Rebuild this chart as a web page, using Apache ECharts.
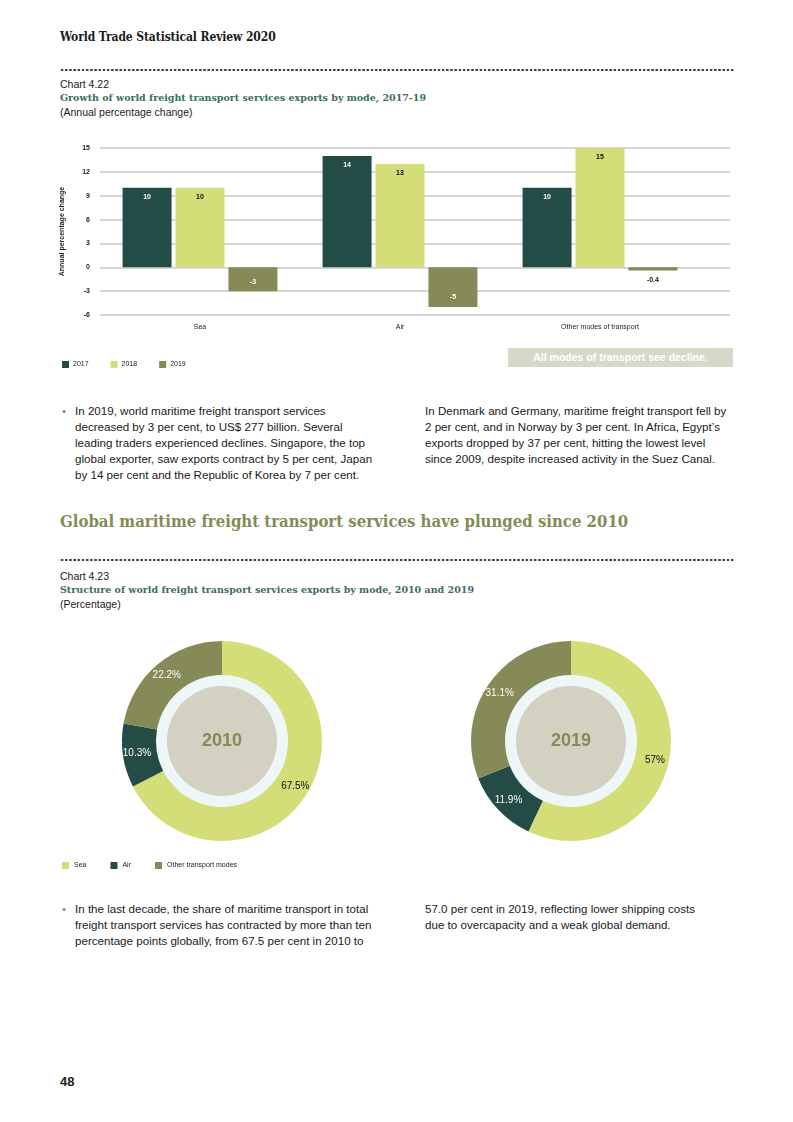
<!DOCTYPE html>
<html>
<head>
<meta charset="utf-8">
<script src="https://cdn.jsdelivr.net/npm/echarts@6/dist/echarts.min.js"></script>
<style>
  html, body { margin:0; padding:0; background:#fff; }
  body { width:793px; height:1122px; position:relative; overflow:hidden; font-family:"Liberation Sans", Arial, sans-serif; color:#1a1a1a; }
  .abs { position:absolute; white-space:nowrap; }
  .slab { font-family:"DejaVu Serif", serif; }
  .slabc { font-family:"DejaVu Serif Condensed","DejaVu Serif", serif; font-stretch:condensed; }
  .dots { position:absolute; left:60px; width:675px; height:4px;
          background-image: radial-gradient(circle, #3a3a3a 0.95px, transparent 1.3px);
          background-size: 4.2px 4px; background-position: 0 0; }
  .ctitle { color:#3c6c64; font-weight:bold; font-size:9.5px; }
  .small { font-size:10.5px; }
  .body { font-size:11.6px; line-height:16px; color:#1a1a1a; }
  .bullet { color:#858a57; }
</style>
</head>
<body>
<div class="abs slabc" style="left:60px;top:30px;font-size:12px;font-weight:bold;letter-spacing:-0.1px;">World Trade Statistical Review 2020</div>
<div class="dots" style="top:68px;"></div>
<div class="abs small" style="left:60px;top:78px;">Chart 4.22</div>
<div class="abs slab ctitle" style="left:60px;top:92px;">Growth of world freight transport services exports by mode, 2017-19</div>
<div class="abs small" style="left:60px;top:106px;">(Annual percentage change)</div>

<div id="bar" style="position:absolute;left:0;top:130px;width:793px;height:245px;"></div>

<div class="abs" style="left:508px;top:348px;width:225px;height:19px;background:#d8d8c9;color:#fff;font-weight:bold;font-size:10.5px;line-height:19px;text-align:center;">All modes of transport see decline.</div>

<div class="abs body" style="left:62px;top:403px;"><span class="bullet">•</span></div>
<div class="abs body" style="left:75px;top:403px;">In 2019, world maritime freight transport services<br>decreased by 3 per cent, to US$ 277 billion. Several<br>leading traders experienced declines. Singapore, the top<br>global exporter, saw exports contract by 5 per cent, Japan<br>by 14 per cent and the Republic of Korea by 7 per cent.</div>
<div class="abs body" style="left:425px;top:403px;">In Denmark and Germany, maritime freight transport fell by<br>2 per cent, and in Norway by 3 per cent. In Africa, Egypt’s<br>exports dropped by 37 per cent, hitting the lowest level<br>since 2009, despite increased activity in the Suez Canal.</div>

<div class="abs slabc" style="left:60px;top:511px;font-size:16.6px;font-weight:bold;color:#858a57;">Global maritime freight transport services have plunged since 2010</div>
<div class="dots" style="top:558px;"></div>
<div class="abs small" style="left:60px;top:570px;">Chart 4.23</div>
<div class="abs slab ctitle" style="left:60px;top:584px;">Structure of world freight transport services exports by mode, 2010 and 2019</div>
<div class="abs small" style="left:60px;top:598px;">(Percentage)</div>

<div id="pie" style="position:absolute;left:0;top:630px;width:793px;height:250px;"></div>

<div class="abs body" style="left:62px;top:901px;"><span class="bullet">•</span></div>
<div class="abs body" style="left:75px;top:901px;">In the last decade, the share of maritime transport in total<br>freight transport services has contracted by more than ten<br>percentage points globally, from 67.5 per cent in 2010 to</div>
<div class="abs body" style="left:425px;top:901px;">57.0 per cent in 2019, reflecting lower shipping costs<br>due to overcapacity and a weak global demand.</div>

<div class="abs" style="left:60px;top:1074px;font-size:13px;font-weight:bold;">48</div>

<script>
// ---- Chart 4.22 data ----
const categories = ['Sea', 'Air', 'Other modes of transport'];
const years = ['2017', '2018', '2019'];
const v2017 = [10, 14, 10];
const v2018 = [10, 13, 15];
const v2019 = [-3, -5, -0.4];
const yTicks = { min: -6, max: 15, interval: 3 };

// ---- Chart 4.23 data ----
const modes = ['Sea', 'Air', 'Other transport modes'];
const pieYears = ['2010', '2019'];
const share2010 = [67.5, 10.3, 22.2];
const share2019 = [57, 11.9, 31.1];

const cDark = '#244c46', cLight = '#d4de78', cOlive = '#858a57';
const FONT = '"Liberation Sans", Arial, sans-serif';

const bar = echarts.init(document.getElementById('bar'), null, { renderer: 'canvas' });
const lab = (color, pos) => ({ show: true, position: pos, distance: 6, color, fontSize: 7, fontWeight: 'bold', fontFamily: FONT, formatter: '{c}' });
bar.setOption({
  animation: false,
  textStyle: { fontFamily: FONT },
  legend: {
    data: years, left: 57, top: 226, icon: 'rect', itemWidth: 7, itemHeight: 7, itemGap: 22,
    textStyle: { fontSize: 7, color: '#222', fontFamily: FONT, padding: [0, 0, 0, -1] }
  },
  grid: [
    { left: 100, width: 630, top: 18, height: 167 },
    { left: 100, width: 600, top: 18, height: 167 }
  ],
  xAxis: [
    { gridIndex: 0, type: 'category', data: categories, show: false },
    { gridIndex: 1, type: 'category', data: categories,
      axisLine: { show: false }, axisTick: { show: false },
      axisLabel: { fontSize: 7, color: '#222', margin: 9, fontFamily: FONT } }
  ],
  yAxis: [
    { gridIndex: 0, type: 'value', min: yTicks.min, max: yTicks.max, interval: yTicks.interval,
      name: 'Annual percentage change', nameLocation: 'middle', nameRotate: 90, nameGap: 34,
      nameTextStyle: { fontSize: 7, color: '#222', fontWeight: 'bold', fontFamily: FONT },
      axisLine: { show: false }, axisTick: { show: false },
      axisLabel: { fontSize: 7, color: '#222', fontWeight: 'bold', margin: 10, fontFamily: FONT },
      splitLine: { lineStyle: { color: '#c9c9c9', width: 1.5 } } },
    { gridIndex: 1, type: 'value', min: yTicks.min, max: yTicks.max, interval: yTicks.interval, show: false,
      splitLine: { show: false } }
  ],
  series: [
    { name: '2017', type: 'bar', xAxisIndex: 1, yAxisIndex: 1, data: v2017, barWidth: 49, barGap: '8%',
      itemStyle: { color: cDark }, label: lab('#fff', 'insideTop') },
    { name: '2018', type: 'bar', xAxisIndex: 1, yAxisIndex: 1, data: v2018, barWidth: 49, barGap: '8%',
      itemStyle: { color: cLight }, label: lab('#111', 'insideTop') },
    { name: '2019', type: 'bar', xAxisIndex: 1, yAxisIndex: 1, barWidth: 49, barGap: '8%',
      itemStyle: { color: cOlive },
      data: v2019.map(v => v > -1
        ? { value: v, label: lab('#111', 'bottom') }
        : { value: v, label: lab('#fff', 'insideBottom') }),
      label: lab('#fff', 'insideBottom') }
  ]
});

const pie = echarts.init(document.getElementById('pie'), null, { renderer: 'canvas' });
const centers = [[222, 111], [571, 111]];
const shares = [share2010, share2019];
const modeColors = [cLight, cDark, cOlive];
const labColors = ['#111', '#fff', '#fff'];
const series = [];
pieYears.forEach((yr, i) => {
  series.push({
    type: 'pie', center: centers[i], radius: [0, 66], silent: true, startAngle: 90,
    label: { show: false }, labelLine: { show: false },
    data: [{ name: 'ring' + yr, value: 1, itemStyle: { color: '#eef6f8' } }]
  });
  series.push({
    type: 'pie', center: centers[i], radius: [0, 55], silent: true,
    labelLine: { show: false },
    label: { show: true, position: 'center', formatter: yr, fontSize: 18, fontWeight: 'bold', color: cOlive, fontFamily: FONT },
    data: [{ name: 'core' + yr, value: 1, itemStyle: { color: '#d3d1c1' } }]
  });
  series.push({
    type: 'pie', center: centers[i], radius: [66, 100], startAngle: 90, clockwise: true,
    labelLine: { show: false },
    label: { show: true, position: 'inside', formatter: '{c}%', fontSize: 10, fontFamily: FONT },
    data: modes.map((m, k) => ({ name: m, value: shares[i][k], itemStyle: { color: modeColors[k] }, label: { color: labColors[k] } }))
  });
});
pie.setOption({
  animation: false,
  legend: {
    data: modes, left: 57, top: 227, icon: 'rect', itemWidth: 7, itemHeight: 7, itemGap: 24,
    textStyle: { fontSize: 7, color: '#222', fontFamily: FONT }
  },
  series
});
</script>
</body>
</html>
